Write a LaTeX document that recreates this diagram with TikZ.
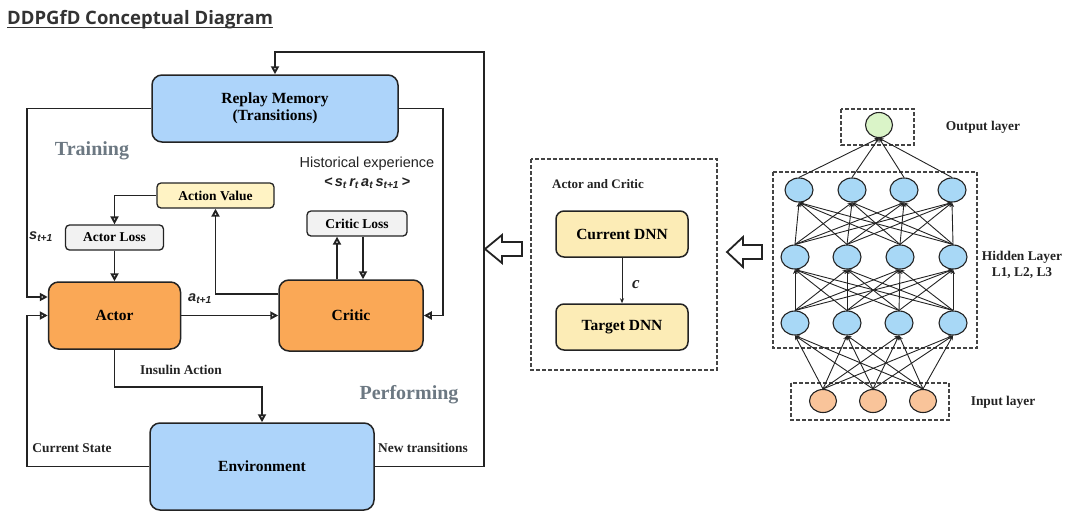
\documentclass[tikz,border=0pt]{standalone}
\usepackage{fontspec}
\setmainfont{Liberation Serif}
\newfontfamily\sansf{Liberation Sans}
\newfontfamily\titlef{Open Sans}
\usetikzlibrary{arrows.meta,shapes.geometric,calc}
\definecolor{linec}{RGB}{35,35,35}
\definecolor{memblue}{RGB}{173,212,250}
\definecolor{actorange}{RGB}{250,168,86}
\definecolor{valyellow}{RGB}{255,243,196}
\definecolor{dnnyellow}{RGB}{252,236,182}
\definecolor{lossgray}{RGB}{242,242,242}
\definecolor{graytxt}{RGB}{108,120,130}
\definecolor{nnblue}{RGB}{168,216,246}
\definecolor{nngreen}{RGB}{218,244,200}
\definecolor{nnpeach}{RGB}{249,196,154}
\definecolor{titlec}{RGB}{51,51,51}
\tikzset{
  bigbox/.style={draw=linec, line width=1.5pt, rounded corners=10pt, align=center, inner sep=0pt,
    font=\bfseries\fontsize{15.5}{17}\selectfont},
  smallbox/.style={draw=linec, line width=1.3pt, rounded corners=4pt, inner sep=0pt,
    font=\bfseries\fontsize{13.5}{16}\selectfont},
  arr/.style={draw=linec, line width=1.9pt, -{Triangle[open,length=8pt,width=8pt]}},
  thinarr/.style={draw=linec, line width=0.9pt, -{Stealth[length=5pt,width=4pt]}},
  lbl/.style={inner sep=0pt, font=\bfseries\fontsize{13.4}{16}\selectfont, text=linec},
  biglbl/.style={inner sep=0pt, font=\bfseries\fontsize{20}{24}\selectfont, text=graytxt},
  sanslbl/.style={inner sep=0pt, font=\sansf\fontsize{14.5}{17}\selectfont, text=linec},
  dashbox/.style={draw=linec!85, line width=1.1pt, dash pattern=on 4pt off 2pt},
  nnode/.style={ellipse, draw=linec, line width=1.1pt, minimum width=28pt, minimum height=24pt, inner sep=0pt},
  nnedge/.style={draw=linec, line width=0.9pt, -{Stealth[length=4.5pt,width=4pt]}},
  hollow/.style={draw=linec, line width=1.8pt, fill=white, line join=miter}
}
\begin{document}
\begin{tikzpicture}[x=1pt,y=-1pt]
\path[use as bounding box] (0,0) rectangle (1089,520);

% title
\node[anchor=base west, inner sep=0pt, font=\titlef\bfseries\fontsize{18.5}{21}\selectfont, text=titlec] (title) at (7,24) {DDPGfD Conceptual Diagram};
\draw[titlec, line width=1.3pt] (title.west |- 0,27.5) -- (title.east |- 0,27.5);

% ---------------- left diagram ----------------
\node[bigbox, fill=memblue, minimum width=246pt, minimum height=67pt] (rm) at (275,108.5) {Replay Memory\\(Transitions)};
\node[bigbox, fill=actorange, minimum width=132pt, minimum height=67pt] (actor) at (114.5,315.5) {Actor};
\node[bigbox, fill=actorange, minimum width=144pt, minimum height=71pt] (critic) at (351,315.5) {Critic};
\node[bigbox, fill=memblue, minimum width=224pt, minimum height=87pt] (env) at (262,466.5) {Environment};
\node[smallbox, fill=valyellow, minimum width=117pt, minimum height=25pt] (av) at (215.5,195.5) {Action Value};
\node[smallbox, fill=lossgray, minimum width=98pt, minimum height=25pt] (al) at (114.5,237.5) {Actor Loss};
\node[smallbox, fill=lossgray, minimum width=100pt, minimum height=25pt] (cl) at (357,223.5) {Critic Loss};

\node[biglbl] (training) at (92,151) {Training};
\node[biglbl] (performing) at (409,395) {Performing};
\node[sanslbl] (hist) at (367,164) {Historical experience};
\node[sanslbl, font=\sansf\bfseries\itshape\fontsize{14.5}{17}\selectfont] (tuple) at (367,183)
  {<\,s\textsubscript{t}\,r\textsubscript{t}\,a\textsubscript{t}\,s\textsubscript{t+1}\,>};
\node[sanslbl, font=\sansf\bfseries\itshape\fontsize{14.5}{17}\selectfont] (slbl) at (41,237) {s\textsubscript{t+1}};
\node[sanslbl, font=\sansf\bfseries\itshape\fontsize{14.5}{17}\selectfont] (albl) at (200,299) {a\textsubscript{t+1}};
\node[lbl] (insulin) at (181,370) {Insulin Action};
\node[lbl] (curstate) at (72,448) {Current State};
\node[lbl] (newtr) at (423,448) {New transitions};

\coordinate (top) at (484,52);
\coordinate (L1) at (27,297);
\coordinate (L2) at (27,315.5);
\coordinate (R1) at (443,315.5);
\coordinate (I1) at (262,387);
\coordinate (AV1) at (215.5,294);

\draw[arr] (env.east) -| (top) -| (rm.north);
\draw[arr] (rm.west) -| (L1) -- (actor.west |- L1);
\draw[arr] (env.west) -| (L2) -- (actor.west);
\draw[arr] (rm.east) -| (R1) -- (critic.east);
\draw[arr] (actor.east) -- (critic.west);
\draw[arr] (actor.south) |- (I1) -- (env.north);
\draw[arr] (critic.west |- AV1) -- (AV1) -- (av.south);
\draw[arr] (av.west) -| (al.north);
\draw[arr] (al.south) -- (actor.north);
\draw[arr] ($(critic.north)+(-14,0)$) -- ($(cl.south)+(-20,0)$);
\draw[arr] ($(cl.south)+(6,0)$) -- ($(critic.north)+(12,0)$);

% hollow arrows
\draw[hollow] (485,249) -- (502,235) -- (502,242) -- (522,242) -- (522,256) -- (502,256) -- (502,263) -- cycle;
\draw[hollow] (727,252) -- (743,237) -- (743,245) -- (762,245) -- (762,259) -- (743,259) -- (743,267) -- cycle;

% ---------------- middle ----------------
\draw[dashbox] (531,159) rectangle (717,370);
\node[lbl, font=\bfseries\fontsize{13}{16}\selectfont] (acl) at (598,184) {Actor and Critic};
\node[bigbox, rounded corners=8pt, fill=dnnyellow, minimum width=132pt, minimum height=46pt, font=\bfseries\fontsize{15.5}{17}\selectfont] (cd) at (622,234) {Current DNN};
\node[bigbox, rounded corners=8pt, fill=dnnyellow, minimum width=132pt, minimum height=46pt, font=\bfseries\fontsize{15.5}{17}\selectfont] (td) at (622,327) {Target DNN};
\draw[thinarr] (cd.south) -- (td.north);
\node[lbl, font=\bfseries\itshape\fontsize{17}{19}\selectfont] (clbl) at (636,285) {c};

% ---------------- neural network ----------------
\draw[dashbox] (841,109) rectangle (914,145);
\draw[dashbox] (773,172) rectangle (977,348);
\draw[dashbox] (791,383) rectangle (949,420);

\node[nnode, fill=nngreen, minimum width=27pt, minimum height=25pt] (out) at (879,125) {};
\node[nnode, fill=nnblue] (ha1) at (799,190) {};
\node[nnode, fill=nnblue] (ha2) at (852,190) {};
\node[nnode, fill=nnblue] (ha3) at (904,190) {};
\node[nnode, fill=nnblue] (ha4) at (952,190) {};
\node[nnode, fill=nnblue] (hb1) at (795,257) {};
\node[nnode, fill=nnblue] (hb2) at (847,257) {};
\node[nnode, fill=nnblue] (hb3) at (900,257) {};
\node[nnode, fill=nnblue] (hb4) at (953,257) {};
\node[nnode, fill=nnblue] (hc1) at (795,323) {};
\node[nnode, fill=nnblue] (hc2) at (847,323) {};
\node[nnode, fill=nnblue] (hc3) at (899,323) {};
\node[nnode, fill=nnblue] (hc4) at (953,323) {};
\node[nnode, fill=nnpeach, minimum width=27pt, minimum height=23pt] (in1) at (823,401) {};
\node[nnode, fill=nnpeach, minimum width=27pt, minimum height=23pt] (in2) at (873,401) {};
\node[nnode, fill=nnpeach, minimum width=27pt, minimum height=23pt] (in3) at (923,401) {};

\foreach \i in {1,...,4}{
  \draw[nnedge] (ha\i.north) -- (out.south);
  \foreach \j in {1,...,4}{
    \draw[nnedge] (hb\i.north) -- (ha\j.south);
    \draw[nnedge] (hc\i.north) -- (hb\j.south);
  }
  \foreach \k in {1,2,3}{
    \draw[nnedge] (in\k.north) -- (hc\i.south);
  }
}

\node[lbl] (outl) at (983,127) {Output layer};
\node[lbl, align=center, font=\bfseries\fontsize{13.4}{16}\selectfont] (hidl) at (1022,265) {Hidden Layer\\L1, L2, L3};
\node[lbl] (inl) at (1003,402) {Input layer};
\end{tikzpicture}
\end{document}
